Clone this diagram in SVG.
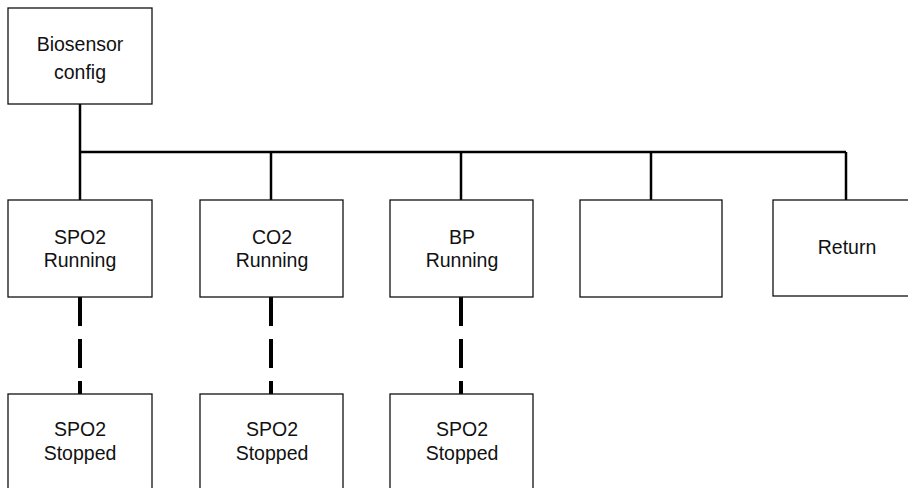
<svg xmlns="http://www.w3.org/2000/svg" width="908" height="488" viewBox="0 0 908 488">
  <style>
    .box { fill: #ffffff; stroke: #111111; stroke-width: 1.3; }
    .label { font-family: "Liberation Sans", Arial, sans-serif; font-size: 19.5px; fill: #111111; text-anchor: middle; }
    .wire { fill: none; stroke: #000000; stroke-width: 2.5; }
    .dash { fill: none; stroke: #000000; stroke-width: 4; stroke-dasharray: 29 13; }
  </style>
  <rect width="908" height="488" fill="#ffffff"/>

  <g id="connectors">
    <!-- tree from the config menu to its items -->
    <path class="wire" d="M80 104 V200"/>
    <path class="wire" d="M80 152 H846"/>
    <path class="wire" d="M271 152 V200"/>
    <path class="wire" d="M461 152 V200"/>
    <path class="wire" d="M651 152 V200"/>
    <path class="wire" d="M846 152 V200"/>
    <!-- running to stopped toggles -->
    <path class="dash" d="M80 297 V394"/>
    <path class="dash" d="M271 297 V394"/>
    <path class="dash" d="M461 297 V394"/>
  </g>

  <g id="biosensor-config">
    <rect class="box" x="8" y="8" width="144" height="96"/>
    <text class="label" x="80" y="51">Biosensor</text>
    <text class="label" x="80" y="79">config</text>
  </g>

  <g id="spo2-running">
    <rect class="box" x="8" y="200" width="144" height="97"/>
    <text class="label" x="80" y="244">SPO2</text>
    <text class="label" x="80" y="267">Running</text>
  </g>

  <g id="co2-running">
    <rect class="box" x="200" y="200" width="143" height="97"/>
    <text class="label" x="272" y="244">CO2</text>
    <text class="label" x="272" y="267">Running</text>
  </g>

  <g id="bp-running">
    <rect class="box" x="390" y="200" width="143" height="97"/>
    <text class="label" x="462" y="244">BP</text>
    <text class="label" x="462" y="267">Running</text>
  </g>

  <g id="empty-item">
    <rect class="box" x="580" y="200" width="142" height="97"/>
  </g>

  <g id="return">
    <rect class="box" x="773" y="200" width="144" height="96"/>
    <text class="label" x="847" y="254">Return</text>
  </g>

  <g id="spo2-stopped-1">
    <rect class="box" x="8" y="394" width="144" height="110"/>
    <text class="label" x="80" y="436">SPO2</text>
    <text class="label" x="80" y="460">Stopped</text>
  </g>

  <g id="spo2-stopped-2">
    <rect class="box" x="200" y="394" width="143" height="110"/>
    <text class="label" x="272" y="436">SPO2</text>
    <text class="label" x="272" y="460">Stopped</text>
  </g>

  <g id="spo2-stopped-3">
    <rect class="box" x="390" y="394" width="143" height="110"/>
    <text class="label" x="462" y="436">SPO2</text>
    <text class="label" x="462" y="460">Stopped</text>
  </g>
</svg>
